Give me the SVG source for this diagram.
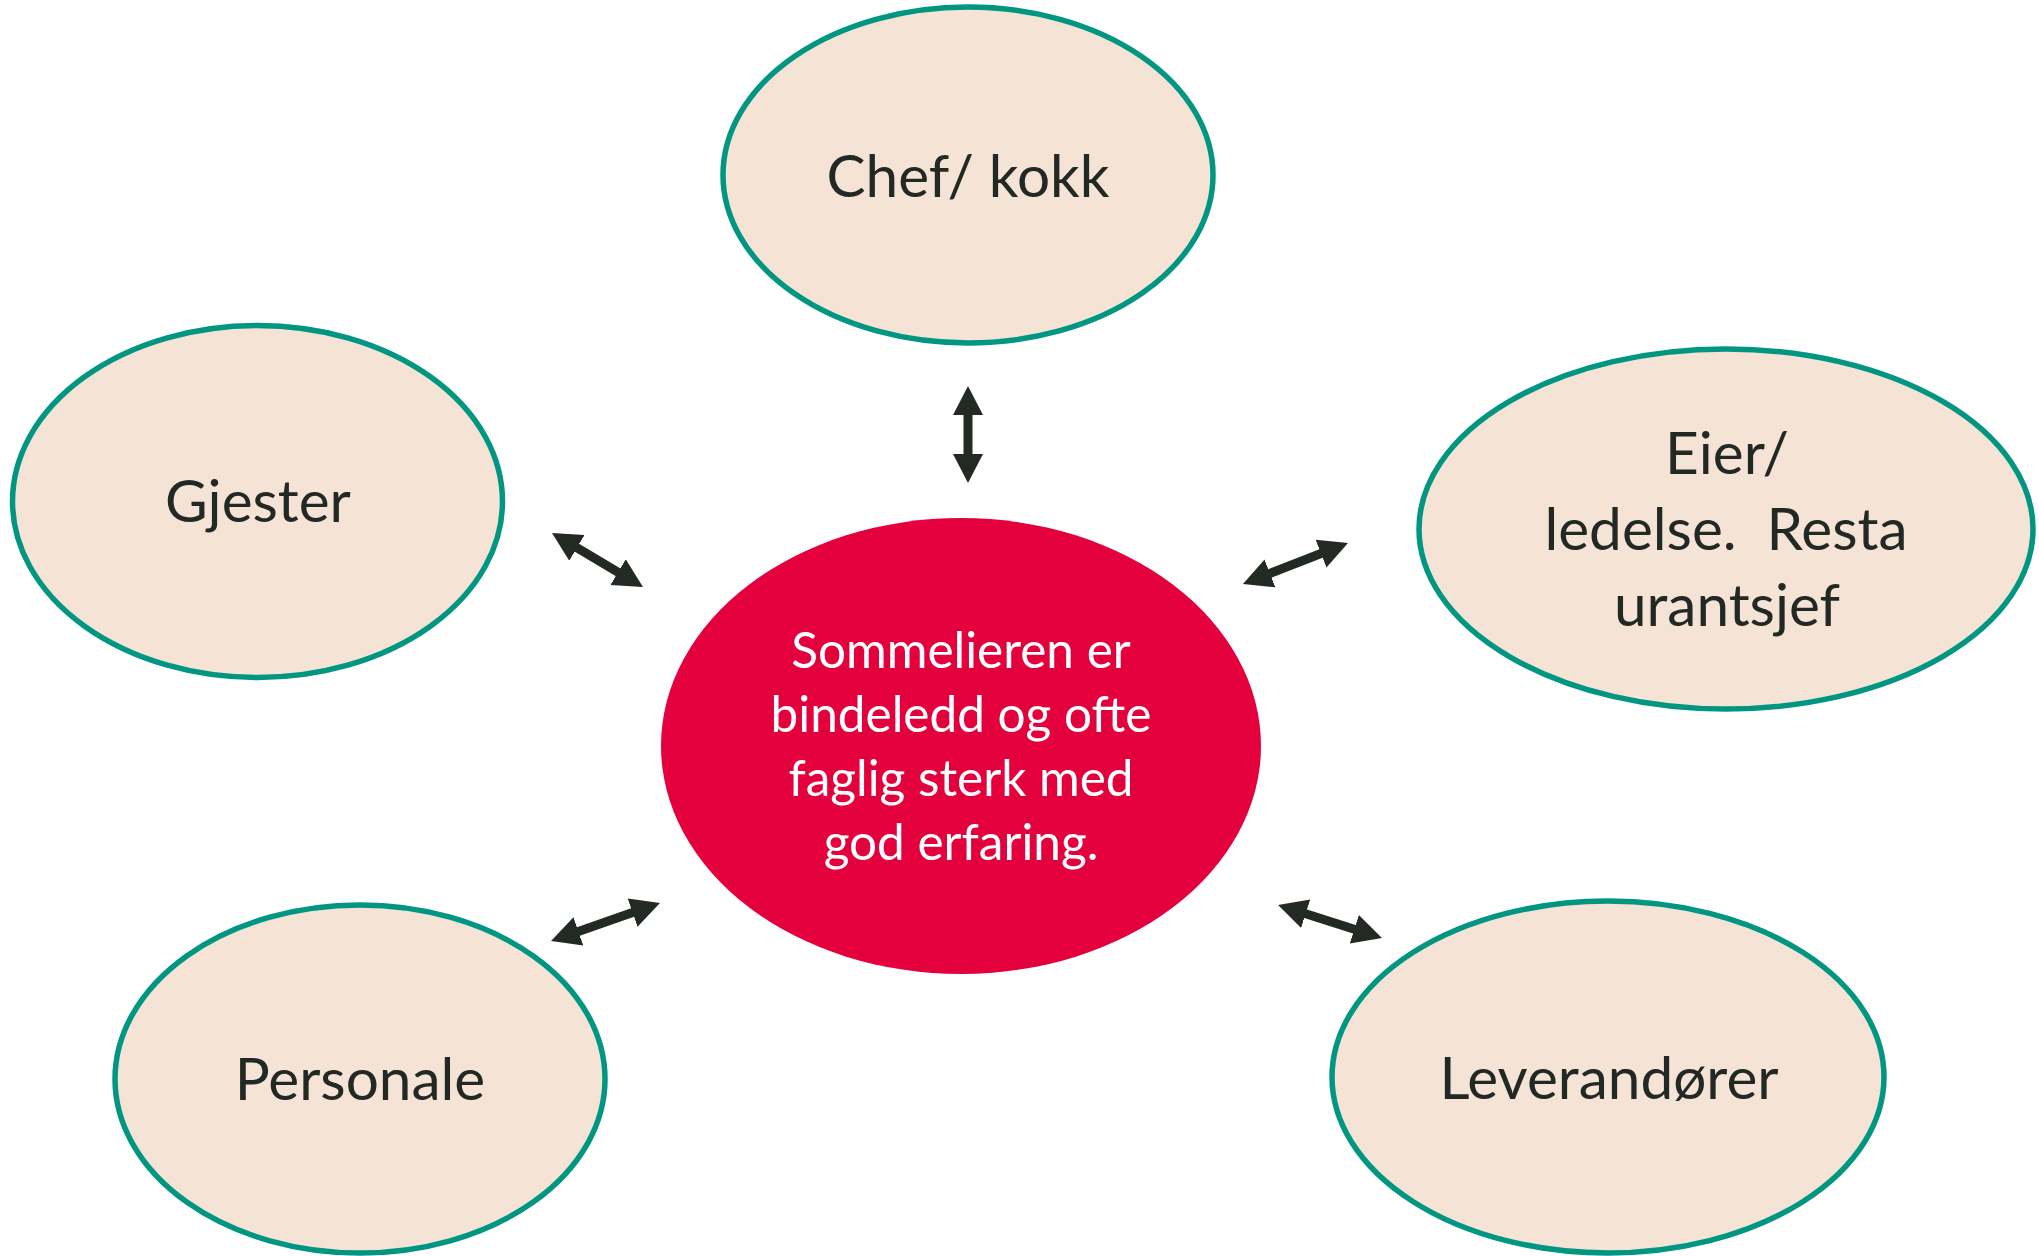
<svg xmlns="http://www.w3.org/2000/svg" width="2039" height="1256" viewBox="0 0 2039 1256">
  <defs>
    <style>
      .node { fill: #F5E3D6; stroke: #009682; stroke-width: 5.5; }
      .hub { fill: #E3003D; }
      .lbl { font-family: Lato, "Open Sans", "Liberation Sans", sans-serif; font-size: 58.5px; fill: #222823; text-anchor: middle; white-space: pre; }
      .hubtxt { font-family: Lato, "Open Sans", "Liberation Sans", sans-serif; font-size: 49.5px; fill: #FFFFFF; text-anchor: middle; }
      .conn { stroke: #232A24; stroke-width: 9; fill: none; marker-start: url(#head); marker-end: url(#head); }
    </style>
    <marker id="head" markerUnits="userSpaceOnUse" viewBox="0 -16 30 32" markerWidth="30" markerHeight="32" refX="9" refY="0" orient="auto-start-reverse">
      <path d="M0,-15 L29,0 L0,15 Z" fill="#232A24"/>
    </marker>
  </defs>
  <rect width="2039" height="1256" fill="#FFFFFF"/>

  <g id="connectors">
    <line class="conn" x1="968" y1="463" x2="968" y2="406"/>
    <line class="conn" x1="625.8" y1="576.8" x2="569.2" y2="543.2"/>
    <line class="conn" x1="1261.6" y1="576.7" x2="1329.4" y2="550.3"/>
    <line class="conn" x1="641.1" y1="909.6" x2="569.9" y2="934.4"/>
    <line class="conn" x1="1297.1" y1="911.0" x2="1362.9" y2="932.0"/>
  </g>

  <g id="chef">
    <ellipse class="node" cx="968" cy="175" rx="245" ry="168"/>
    <text class="lbl" x="968" y="197">Chef/ kokk</text>
  </g>

  <g id="gjester">
    <ellipse class="node" cx="257.5" cy="501.5" rx="245" ry="176"/>
    <text class="lbl" x="258" y="522">Gjester</text>
  </g>

  <g id="eier">
    <ellipse class="node" cx="1726" cy="529" rx="307" ry="180"/>
    <text class="lbl" x="1727" y="474">Eier/</text>
    <text class="lbl" x="1726" y="550">ledelse.  Resta</text>
    <text class="lbl" x="1727" y="626">urantsjef</text>
  </g>

  <g id="personale">
    <ellipse class="node" cx="360" cy="1079" rx="245" ry="174"/>
    <text class="lbl" x="360" y="1100">Personale</text>
  </g>

  <g id="leverandorer">
    <ellipse class="node" cx="1608" cy="1077" rx="276" ry="176"/>
    <text class="lbl" x="1609" y="1099">Leverandører</text>
  </g>

  <g id="sommelier">
    <ellipse class="hub" cx="961" cy="746" rx="300" ry="228"/>
    <text class="hubtxt" x="961" y="668">Sommelieren er</text>
    <text class="hubtxt" x="961" y="732">bindeledd og ofte</text>
    <text class="hubtxt" x="961" y="796">faglig sterk med</text>
    <text class="hubtxt" x="961" y="860">god erfaring.</text>
  </g>
</svg>
